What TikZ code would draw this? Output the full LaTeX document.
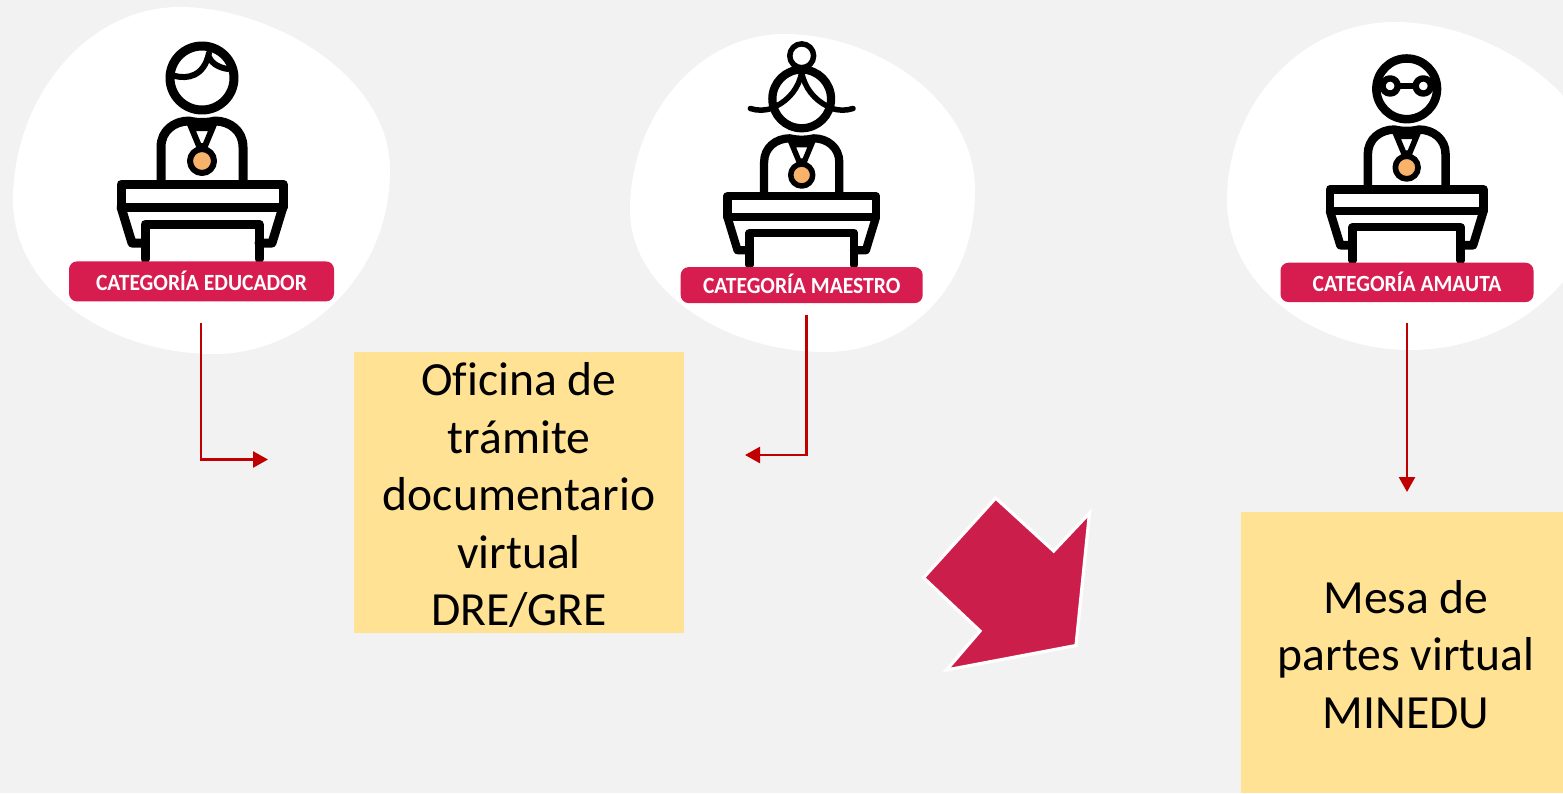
\documentclass[tikz,border=0pt]{standalone}
\usepackage{fontspec}
\setmainfont{Carlito}
\newfontfamily\nolig{Carlito}[Ligatures={NoCommon}]
\usetikzlibrary{arrows.meta}
\definecolor{bgc}{HTML}{F2F2F2}
\definecolor{boxc}{HTML}{FFE294}
\definecolor{labc}{HTML}{D71C4F}
\definecolor{arrc}{HTML}{CC1E4B}
\definecolor{redl}{HTML}{C00000}
\definecolor{medal}{HTML}{F8B26A}
\tikzset{
  x=0.5pt,y=-0.5pt,
  blob/.style={fill=white,draw=none},
  catlabel/.style={fill=labc,rounded corners=4pt,text=white,inner sep=0pt,anchor=north},
  yellowbox/.style={fill=boxc,inner sep=0pt},
  boxtext/.style={font=\nolig\fontsize{23.8}{28.75}\selectfont,align=center,inner sep=0pt},
  flow/.style={draw=redl,line width=1.25pt,-{Triangle[length=7.5pt,width=8pt]}},
  bigarrow/.style={fill=arrc,draw=white,line width=1.6pt,line join=miter}
}
\newcommand{\cattext}[1]{\raisebox{1pt}{\scalebox{0.93}[1]{\fontsize{11.6}{13}\selectfont\bfseries #1}}}
\newcommand{\teacher}[4]{%
 \begin{scope}[shift={(#1,#2)},scale=#3,line cap=round,line join=round]
  \pgfmathsetmacro{\lwa}{4.5*#3}\pgfmathsetmacro{\lwb}{3*#3}
  \begin{scope}[line width=\lwa pt]
   \draw (0,-183) circle [radius=32];
   \draw (-41,-79) -- (-41,-114) .. controls (-41,-130) and (-28,-140) .. (-13,-140) .. controls (-5,-138) and (5,-138) .. (13,-140) .. controls (28,-140) and (41,-130) .. (41,-114) -- (41,-79);
   \draw (-81,-77) rectangle (81,-54);
   \draw (-81,-54) -- (-70,-18) -- (-57,-18);
   \draw (81,-54) -- (70,-18) -- (57,-18);
   \draw (-57,-2) -- (-57,-37) -- (57,-37) -- (57,-2);
  \end{scope}
  \draw[line width=\lwb pt] (-13,-139) -- (-3,-115) -- (3,-115) -- (13,-139) (-10,-133) -- (10,-133);
  \draw[line width=\lwb pt,fill=medal] (0,-100) circle [radius=12];
  \begin{scope}[line width=\lwb pt]#4\end{scope}
 \end{scope}}
\begin{document}
\begin{tikzpicture}
\useasboundingbox (0,0) rectangle (1563,793);
\clip (0,0) rectangle (1563,793);
\fill[bgc] (0,0) rectangle (1563,793);
% blobs
\fill[blob] (180,7) .. controls (270,7) and (390,75) .. (390,170) .. controls (390,280) and (300,354) .. (215,354) .. controls (110,354) and (13,290) .. (13,200) .. controls (13,100) and (85,7) .. (180,7) -- cycle;
\fill[blob] (785,34) .. controls (875,34) and (975,100) .. (975,190) .. controls (975,290) and (905,352) .. (825,352) .. controls (725,352) and (630,290) .. (630,210) .. controls (630,120) and (695,34) .. (785,34) -- cycle;
\fill[blob] (1395,22) .. controls (1490,22) and (1600,95) .. (1600,180) .. controls (1600,280) and (1510,350) .. (1410,350) .. controls (1320,350) and (1227,290) .. (1227,200) .. controls (1227,105) and (1300,22) .. (1395,22) -- cycle;
% teachers
\teacher{202}{261}{1}{%
  \draw (-27,-185) .. controls (-15,-182) and (2,-184) .. (7,-208);
  \draw (7,-204) .. controls (10,-197) and (18,-193) .. (26,-192);}
\teacher{801.7}{266.7}{0.917}{%
  \draw (0,-230) circle [radius=13];
  \draw (-56,-172.5) .. controls (-48,-170) and (-40,-170) .. (-32,-173);
  \draw (56,-172.5) .. controls (48,-170) and (40,-170) .. (32,-173);
  \draw (0,-212) .. controls (-3,-195) and (-14,-182) .. (-28,-175);
  \draw (0,-212) .. controls (3,-195) and (14,-182) .. (28,-175);}
\teacher{1406.7}{262.3}{0.948}{%
  \draw[line width=3.2pt] (-17.5,-186) circle [radius=8];
  \draw[line width=3.2pt] (17.5,-186) circle [radius=8];
  \draw (-9.5,-186) -- (9.5,-186);
  \draw[line width=3pt] (-25,-189) -- (-31,-190);
  \draw[line width=3pt] (25,-189) -- (31,-190);}
% labels
\node[catlabel,minimum width=132.5pt,minimum height=20pt] (lab1) at (201.5,261) {\cattext{CATEGORÍA EDUCADOR}};
\node[catlabel,minimum width=121pt,minimum height=18pt] (lab2) at (801.7,266.7) {\cattext{CATEGORÍA MAESTRO}};
\node[catlabel,minimum width=126.5pt,minimum height=19.7pt] (lab3) at (1407,262.3) {\cattext{CATEGORÍA AMAUTA}};
% boxes
\node[yellowbox,minimum width=165pt,minimum height=140.5pt] (ofi) at (519,492.5) {};
\node[boxtext] (ofitxt) at (519,495) {Oficina de\\trámite\\documentario\\virtual\\DRE/GRE};
\node[yellowbox,minimum width=161pt,minimum height=140.5pt] (mesa) at (1402,652.5) {};
\node[boxtext] (mesatxt) at (1406,654.5) {Mesa de\\partes virtual\\MINEDU};
% connectors
\coordinate (s1) at (201,323);
\coordinate (e1) at (268,459.5);
\coordinate (s2) at (806.5,315);
\coordinate (e2) at (745,455);
\coordinate (s3) at (1407,323);
\coordinate (e3) at (1407,492);
\draw[flow] (s1) |- (e1);
\draw[flow] (s2) |- (e2);
\draw[flow] (s3) -- (e3);
% big arrow
\draw[bigarrow] (995.7,498) -- (1053.7,551) -- (1089.5,513) -- (1076,645.5) -- (946.5,670) -- (980,631) -- (923.5,577.7) -- cycle;
\end{tikzpicture}
\end{document}
